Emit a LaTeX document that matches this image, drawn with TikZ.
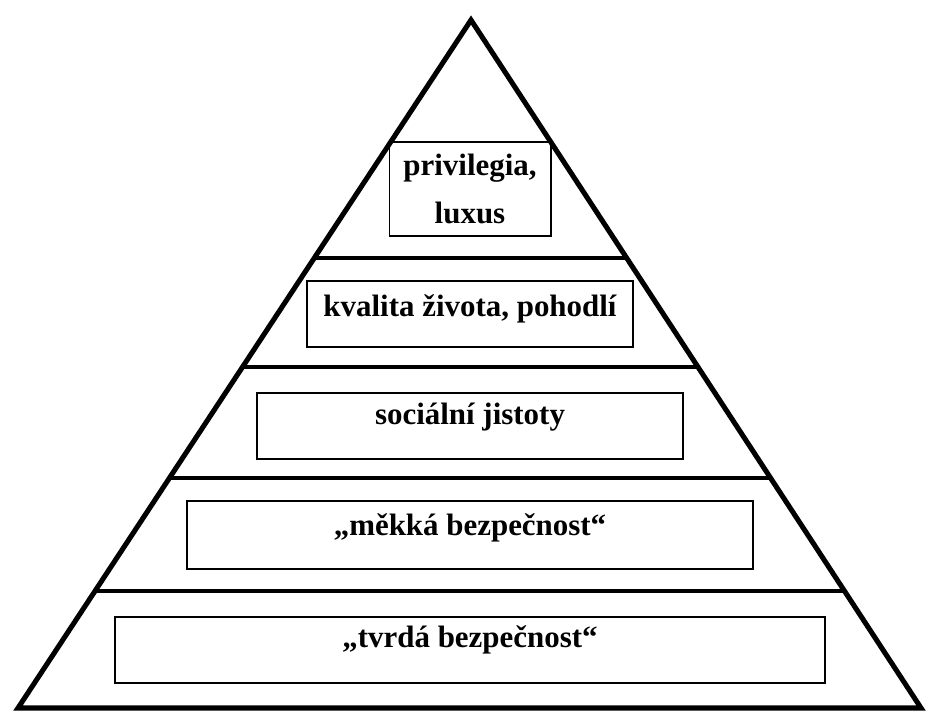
\documentclass[tikz,border=0pt]{standalone}
\usepackage{fontspec}
\setmainfont{Liberation Serif}
\usepackage{tikz}
\usetikzlibrary{positioning,calc}

\begin{document}
\begin{tikzpicture}[x=0.025cm, y=-0.025cm,
    outline/.style={line width=3.6pt, line join=miter},
    divider/.style={line width=2.9pt},
    layerbox/.style={draw, line width=1.4pt, inner sep=0pt,
        font=\bfseries\fontsize{22}{34}\selectfont}]
    \useasboundingbox (0,0) rectangle (926,711);

    % Pyramid outline
    \coordinate (apex) at (471,20);
    \coordinate (bl) at (18,708);
    \coordinate (br) at (921,708);
    \draw[outline] (apex) -- (bl) -- (br) -- cycle;

    % Layer dividers
    \foreach \t in {0.346,0.504,0.666,0.830} {
        \draw[divider] ($(apex)!\t!(bl)$) -- ($(apex)!\t!(br)$);
    }

    % Labels
    \node[layerbox, align=center, minimum width=4.025cm, minimum height=2.35cm]
        (privilegia) at (470,189) {privilegia,\\luxus};
    \node[layerbox, minimum width=8.15cm, text height=0.875cm, text depth=0.775cm]
        (kvalita) at (470,314) {kvalita života, pohodlí};
    \node[layerbox, minimum width=10.65cm, text height=0.775cm, text depth=0.875cm]
        (socialni) at (470,426) {sociální jistoty};
    \node[layerbox, minimum width=14.15cm, text height=0.85cm, text depth=0.85cm]
        (mekka) at (470,535) {„měkká bezpečnost“};
    \node[layerbox, minimum width=17.75cm, text height=0.75cm, text depth=0.9cm]
        (tvrda) at (470,650) {„tvrdá bezpečnost“};
\end{tikzpicture}
\end{document}
